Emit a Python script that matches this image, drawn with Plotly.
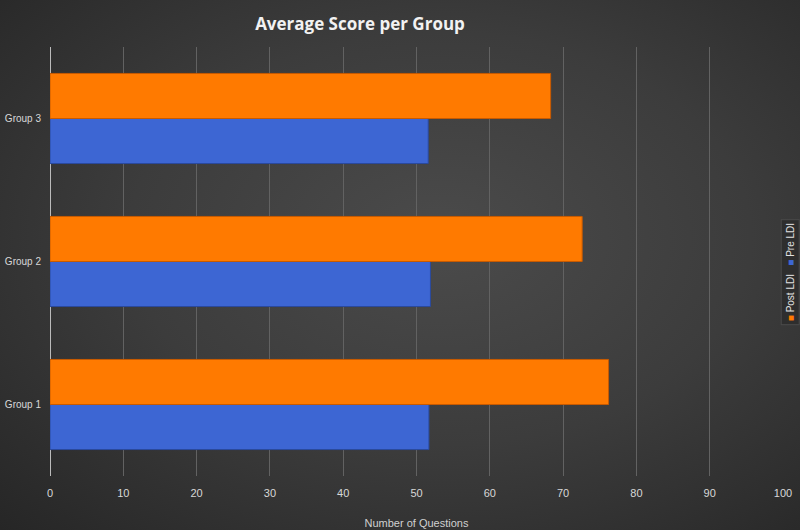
import plotly.graph_objects as go

# data
groups = ["Group 1", "Group 2", "Group 3"]
pre_ldi = [51.7, 51.9, 51.6]
post_ldi = [76.2, 72.6, 68.3]
x_ticks = list(range(0, 101, 10))

orange = "#FF7A00"
blue = "#3D66D3"

fig = go.Figure()

# Pre first so Post sits on top in each group
fig.add_trace(go.Bar(
    y=groups, x=pre_ldi, name="Pre LDI", orientation="h",
    marker=dict(color=blue, line=dict(color="#2a4a9e", width=1)),
    showlegend=False
))
fig.add_trace(go.Bar(
    y=groups, x=post_ldi, name="Post LDI", orientation="h",
    marker=dict(color=orange, line=dict(color="#c85a00", width=1)),
    showlegend=False
))

# rotated legend like the original
fig.add_annotation(
    xref="paper", yref="paper", x=1.0095, y=0.475,
    xanchor="center", yanchor="middle", textangle=-90,
    text=f"<span style='color:{orange}'>■</span> Post LDI   "
         f"<span style='color:{blue}'>■</span> Pre LDI",
    font=dict(family="Liberation Sans Narrow, Liberation Sans", size=10, color="#e0e0e0"),
    showarrow=False, bgcolor="#2e2e2e", bordercolor="#4a4a4a", borderwidth=1, borderpad=3
)

fig.update_layout(
    width=800, height=530,
    barmode="group", bargap=0.37, bargroupgap=0,
    paper_bgcolor="rgba(0,0,0,0)", plot_bgcolor="rgba(0,0,0,0)",
    margin=dict(l=50, r=17, t=47, b=54),
    title=dict(text="<b>Average Score per Group</b>", x=0.45, xanchor="center", y=0.965,
               font=dict(family="Open Sans", size=17, color="#f2f2f2")),
    font=dict(family="Liberation Sans Narrow, Liberation Sans", size=11, color="#d8d8d8"),
)

fig.update_xaxes(
    range=[0, 100], tickvals=x_ticks, showgrid=True, gridcolor="#626262", gridwidth=1,
    zeroline=True, zerolinecolor="#bbbbbb", zerolinewidth=1,
    showline=False, ticks="", ticklabelstandoff=9, automargin=False,
    title=dict(text="Number of Questions", standoff=21, font=dict(size=11, color="#d0d0d0"))
)
fig.update_yaxes(
    range=[-0.5, 2.5], showgrid=False, showline=False, ticks="",
    ticklabelstandoff=8, automargin=False,
    tickfont=dict(family="Liberation Sans", size=10)
)

# dark radial backdrop behind the transparent figure, as in the original
backdrop = ("document.body.style.margin='0';"
            "document.body.style.background='radial-gradient(ellipse at 55% 45%, "
            "#4b4b4b 0%, #3c3c3c 50%, #262626 100%)';")

fig.write_html("out.html", post_script=backdrop, config={"displayModeBar": False})
